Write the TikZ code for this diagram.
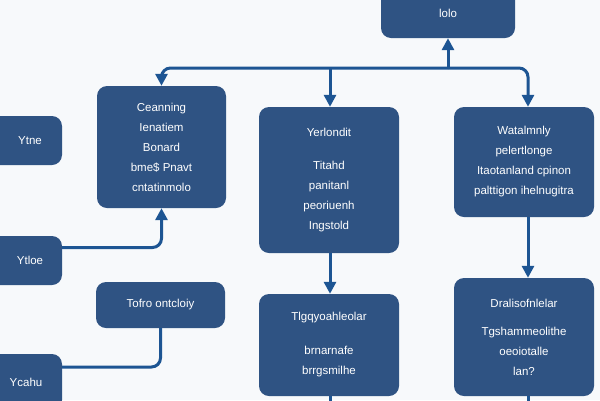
\documentclass[tikz,border=0pt]{standalone}
\usepackage{fontspec}
\setmainfont{Liberation Sans}
\usetikzlibrary{arrows.meta}
\definecolor{bg}{HTML}{F7F9FB}
\definecolor{boxfill}{HTML}{2F5383}
\definecolor{conncol}{HTML}{1D5593}
\tikzset{
  box/.style={fill=boxfill, rounded corners=10pt, text=white, align=center,
    inner sep=0pt, font=\fontsize{11.5}{20}\selectfont},
  conn/.style={draw=conncol, line width=3pt, rounded corners=9pt},
  arr/.style={conn, -{Triangle[width=12pt,length=12pt]}}
}
\begin{document}
\begin{tikzpicture}[x=1pt,y=-1pt]
\useasboundingbox (0,0) rectangle (600,400);
\fill[bg] (0,0) rectangle (600,400);
\clip (0,0) rectangle (600,400);
% boxes
\node[box, minimum width=134pt, minimum height=50pt] (top) at (448,13) {lolo};
\node[box, minimum width=72pt, minimum height=49pt] (L1) at (26,140.5) {\hspace*{8pt}Ytne};
\node[box, minimum width=72pt, minimum height=49pt] (L2) at (26,260.5) {\hspace*{8pt}Ytloe};
\node[box, minimum width=72pt, minimum height=56pt] (L3) at (26,382) {Ycahu};
\node[box, minimum width=129pt, minimum height=122pt] (A) at (161.5,147)
  {Ceanning\\Ienatiem\\Bonard\\bme\$ Pnavt\\cntatinmolo};
\node[box, minimum width=140pt, minimum height=146pt] (B) at (329,180)
  {Yerlondit\\[13pt]Titahd\\panitanl\\peoriuenh\\Ingstold};
\node[box, minimum width=140pt, minimum height=110pt] (C) at (524,162)
  {Watalmnly\\pelertlonge\\Itaotanland cpinon\\palttigon ihelnugitra};
\node[box, minimum width=129pt, minimum height=46pt] (D) at (160.5,305) {Tofro ontcloiy};
\node[box, minimum width=140pt, minimum height=102pt] (E) at (329,345)
  {Tlgqyoahleolar\\[14pt]brnarnafe\\brrgsmilhe};
\node[box, minimum width=140pt, minimum height=118pt] (F) at (524,337)
  {Dralisofnlelar\\[8pt]Tgshammeolithe\\oeoiotalle\\lan?};
% connector coordinates
\coordinate (j) at (448,68);
\coordinate (jb) at (330,68);
\coordinate (eo) at (330,408);
\coordinate (fo) at (528,408);
% connectors
\draw[arr] (j) -- (top.south);
\draw[arr] (j) -| (A.north);
\draw[arr] (j) -| ([xshift=4pt]C.north);
\draw[arr] (jb) -- ([xshift=1pt]B.north);
\draw[arr] ([xshift=1pt]B.south) -- ([xshift=1pt]E.north);
\draw[arr] ([xshift=4pt]C.south) -- ([xshift=4pt]F.north);
\draw[arr] ([yshift=13pt]L2.east) -| (A.south);
\draw[conn] (D.south) |- ([yshift=15pt]L3.east);
\draw[conn] ([xshift=1pt]E.south) -- (eo);
\draw[conn] ([xshift=4pt]F.south) -- (fo);
\end{tikzpicture}
\end{document}
